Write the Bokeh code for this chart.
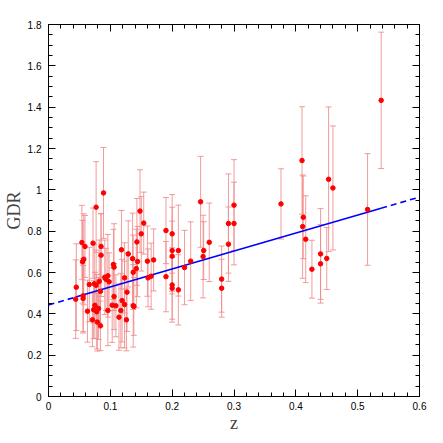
import numpy as np
from bokeh.plotting import figure
from bokeh.models import (ColumnDataSource, Range1d, LinearAxis, FixedTicker,
                          CustomJSTickFormatter, Whisker, TeeHead)
from bokeh.embed import file_html
from bokeh.resources import INLINE

# ---- data ----
z = [0.045, 0.044, 0.054, 0.059, 0.057, 0.055, 0.056, 0.056, 0.063, 0.066,
     0.071, 0.072, 0.077, 0.074, 0.077, 0.075, 0.073, 0.078, 0.079, 0.081,
     0.082, 0.084, 0.084, 0.085, 0.085, 0.089, 0.091, 0.093, 0.096, 0.096,
     0.098, 0.103, 0.105, 0.106, 0.106, 0.109, 0.114, 0.117, 0.118, 0.119,
     0.123, 0.123, 0.126, 0.127, 0.129, 0.136, 0.137, 0.137, 0.138, 0.142,
     0.143, 0.144, 0.148, 0.150, 0.154, 0.160, 0.161, 0.166, 0.170, 0.190,
     0.190, 0.200, 0.200, 0.200, 0.200, 0.200, 0.210, 0.210, 0.220, 0.230,
     0.246, 0.251, 0.250, 0.260, 0.280, 0.280, 0.291, 0.291, 0.300, 0.300,
     0.376, 0.410, 0.412, 0.411, 0.416, 0.426, 0.440, 0.440, 0.450, 0.453,
     0.460, 0.516, 0.538]
gdr = [0.529, 0.471, 0.745, 0.726, 0.664, 0.652, 0.487, 0.474, 0.413, 0.542,
       0.371, 0.742, 0.916, 0.545, 0.538, 0.441, 0.420, 0.410, 0.360, 0.426,
       0.557, 0.342, 0.509, 0.726, 0.684, 0.985, 0.577, 0.567, 0.584, 0.416,
       0.555, 0.442, 0.639, 0.626, 0.484, 0.439, 0.384, 0.416, 0.710, 0.464,
       0.574, 0.445, 0.371, 0.505, 0.690, 0.667, 0.601, 0.439, 0.436, 0.619,
       0.748, 0.653, 0.897, 0.787, 0.839, 0.655, 0.574, 0.582, 0.661, 0.803,
       0.580, 0.787, 0.706, 0.679, 0.540, 0.524, 0.706, 0.516, 0.624, 0.655,
       0.942, 0.706, 0.677, 0.746, 0.568, 0.524, 0.837, 0.737, 0.926, 0.837,
       0.932, 1.142, 0.867, 0.822, 0.761, 0.616, 0.690, 0.642, 0.668, 1.051,
       1.009, 0.905, 1.433]
gdr_err = [0.21, 0.19, 0.18, 0.15, 0.22, 0.20, 0.18, 0.16, 0.15, 0.18,
           0.13, 0.17, 0.22, 0.19, 0.17, 0.16, 0.14, 0.18, 0.14, 0.15,
           0.20, 0.12, 0.17, 0.16, 0.20, 0.22, 0.18, 0.15, 0.20, 0.17,
           0.14, 0.18, 0.17, 0.21, 0.16, 0.15, 0.16, 0.18, 0.19, 0.20,
           0.17, 0.21, 0.15, 0.19, 0.16, 0.22, 0.18, 0.20, 0.14, 0.19,
           0.21, 0.17, 0.20, 0.18, 0.15, 0.17, 0.14, 0.16, 0.15, 0.16,
           0.17, 0.19, 0.21, 0.17, 0.18, 0.15, 0.22, 0.17, 0.18, 0.19,
           0.22, 0.14, 0.20, 0.19, 0.16, 0.14, 0.24, 0.18, 0.22, 0.20,
           0.17, 0.26, 0.20, 0.25, 0.21, 0.14, 0.22, 0.19, 0.15, 0.35,
           0.30, 0.27, 0.33]

# linear fit GDR = fit_a + fit_b * z
fit_a = 0.443
fit_b = 0.87

x_major = [0.0, 0.1, 0.2, 0.3, 0.4, 0.5, 0.6]
x_minor = [0.02, 0.04, 0.06, 0.08, 0.12, 0.14, 0.16, 0.18, 0.22, 0.24, 0.26, 0.28,
           0.32, 0.34, 0.36, 0.38, 0.42, 0.44, 0.46, 0.48, 0.52, 0.54, 0.56, 0.58]
y_major = [0.0, 0.2, 0.4, 0.6, 0.8, 1.0, 1.2, 1.4, 1.6, 1.8]
y_minor = [0.05, 0.1, 0.15, 0.25, 0.3, 0.35, 0.45, 0.5, 0.55, 0.65, 0.7, 0.75,
           0.85, 0.9, 0.95, 1.05, 1.1, 1.15, 1.25, 1.3, 1.35, 1.45, 1.5, 1.55,
           1.65, 1.7, 1.75]

# ---- figure ----
p = figure(width=435, height=435, output_backend="svg", toolbar_location=None,
           x_range=Range1d(0, 0.6), y_range=Range1d(0, 1.8),
           min_border_left=48, min_border_right=16, min_border_top=24,
           min_border_bottom=39)
p.grid.visible = False
p.outline_line_color = "black"
p.background_fill_color = "white"
p.border_fill_color = "white"

fmt = CustomJSTickFormatter(code="return tick.toFixed(1).replace(/\\.0$/, '');")


def style_axis(ax, show_labels=True):
    ax.major_tick_in = 7
    ax.major_tick_out = 0
    ax.minor_tick_in = 4
    ax.minor_tick_out = 0
    ax.axis_line_color = "black"
    ax.major_tick_line_color = "black"
    ax.minor_tick_line_color = "black"
    ax.major_label_text_font = "Liberation Sans"
    if show_labels:
        ax.major_label_text_font_size = "10px"
        ax.major_label_text_color = "black"
        ax.major_label_standoff = 7
    else:
        ax.major_label_text_font_size = "1px"
        ax.major_label_text_color = None
        ax.major_label_standoff = 0


p.xaxis.ticker = FixedTicker(ticks=x_major, minor_ticks=x_minor)
p.yaxis.ticker = FixedTicker(ticks=y_major, minor_ticks=y_minor)
p.xaxis.formatter = fmt
p.yaxis.formatter = fmt
for ax in p.xaxis + p.yaxis:
    style_axis(ax)
p.xaxis.major_label_standoff = 5
p.xaxis.axis_label = "z"
p.yaxis.axis_label = "GDR"
for ax in p.xaxis + p.yaxis:
    ax.axis_label_text_font = "Liberation Serif"
    ax.axis_label_text_font_style = "normal"
    ax.axis_label_text_font_size = "18px"
p.xaxis.axis_label_standoff = 0
p.yaxis.axis_label_standoff = 1

top = LinearAxis(ticker=FixedTicker(ticks=x_major, minor_ticks=x_minor), formatter=fmt)
right = LinearAxis(ticker=FixedTicker(ticks=y_major, minor_ticks=y_minor), formatter=fmt)
style_axis(top, False)
style_axis(right, False)
p.add_layout(top, "above")
p.add_layout(right, "right")

# ---- error bars ----
z_a = np.array(z)
g_a = np.array(gdr)
e_a = np.array(gdr_err)
src = ColumnDataSource(dict(x=z_a, y=g_a, upper=g_a + e_a, lower=g_a - e_a))
bar_col = "#f08a8a"
wh = Whisker(base="x", upper="upper", lower="lower", source=src,
             line_color=bar_col, line_alpha=0.85, line_width=1,
             upper_head=TeeHead(size=6, line_color=bar_col, line_alpha=0.85),
             lower_head=TeeHead(size=6, line_color=bar_col, line_alpha=0.85))
p.add_layout(wh)

# ---- fit line ----
zmin, zmax = min(z), max(z)
xs_solid = [zmin, zmax]
p.line(xs_solid, [fit_a + fit_b * v for v in xs_solid], line_color="#0000ff", line_width=1.6)
xs_lo = [0.0, zmin]
xs_hi = [zmax, 0.6]
p.line(xs_lo, [fit_a + fit_b * v for v in xs_lo], line_color="#0000ff", line_width=1.6, line_dash="6 4")
p.line(xs_hi, [fit_a + fit_b * v for v in xs_hi], line_color="#0000ff", line_width=1.6, line_dash="6 4")

# ---- points ----
p.scatter("x", "y", source=src, marker="circle", size=4.5, fill_color="#ff0000", line_color="#ff0000")

open("out.html", "w").write(file_html(p, INLINE))
